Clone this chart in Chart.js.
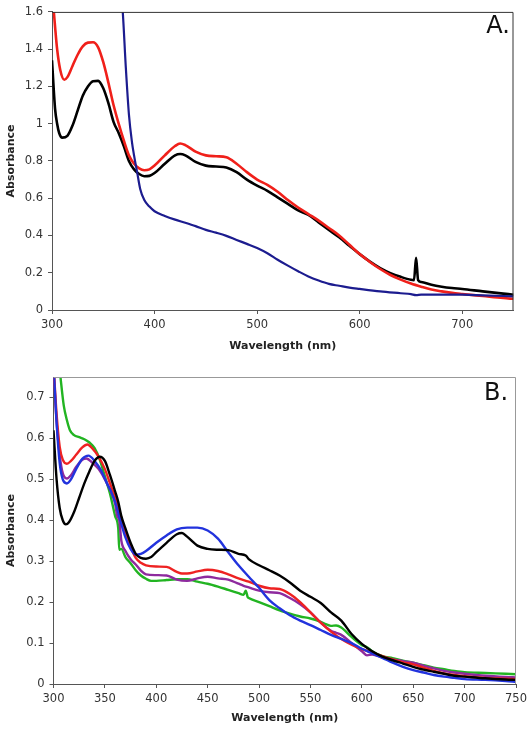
<!DOCTYPE html>
<html>
<head>
<meta charset="utf-8">
<script src="https://cdn.jsdelivr.net/npm/chart.js@4.4.1/dist/chart.umd.min.js"></script>
<style>
  html, body { margin: 0; padding: 0; background: #fff; }
  #wrapA { position: absolute; left: 0; top: 0; width: 532px; height: 360px; }
  #wrapB { position: absolute; left: 0; top: 360px; width: 532px; height: 372px; }
</style>
</head>
<body>
<div id="wrapA"><canvas id="chartA" width="532" height="360"></canvas></div>
<div id="wrapB"><canvas id="chartB" width="532" height="372"></canvas></div>
<script>
// ---------- Panel A data ----------
const aBlackWl  = [300,303,305,307,310,315,320,325,330,335,340,345,350,355,360,365,370,375,380,385,390,395,400,410,420,425,430,440,450,460,470,480,490,500,510,520,530,540,550,560,570,580,590,600,610,620,630,640,650,653,655,657,660,670,680,690,700,720,740,750];
const aBlackAbs = [1.34,1.08,1.00,0.95,0.925,0.935,0.99,1.07,1.15,1.20,1.228,1.23,1.19,1.11,1.01,0.95,0.88,0.80,0.755,0.73,0.718,0.72,0.735,0.785,0.83,0.837,0.83,0.795,0.775,0.77,0.765,0.74,0.70,0.668,0.64,0.605,0.57,0.535,0.51,0.47,0.43,0.39,0.345,0.30,0.26,0.225,0.198,0.178,0.162,0.16,0.28,0.16,0.15,0.135,0.125,0.118,0.113,0.10,0.088,0.082];

const aRedWl  = [300,303,305,308,312,315,320,325,330,335,340,345,350,355,360,365,370,375,380,385,390,395,400,410,420,425,430,440,450,460,470,480,490,500,510,520,530,540,550,560,570,580,590,600,610,620,630,640,650,660,670,680,690,700,720,740,750];
const aRedAbs = [1.72,1.52,1.40,1.29,1.236,1.25,1.31,1.37,1.415,1.435,1.437,1.41,1.33,1.22,1.10,1.00,0.91,0.83,0.785,0.76,0.75,0.755,0.775,0.83,0.88,0.894,0.885,0.85,0.83,0.825,0.82,0.785,0.74,0.70,0.672,0.635,0.59,0.55,0.515,0.48,0.44,0.40,0.35,0.30,0.258,0.22,0.188,0.163,0.142,0.125,0.11,0.10,0.092,0.086,0.075,0.064,0.06];

const aBlueWl  = [350,360,365,369,372,375,378,380,383,386,390,395,400,410,420,430,440,450,460,470,480,490,500,510,520,530,540,550,560,570,580,590,600,620,640,650,655,660,680,700,720,750];
const aBlueAbs = [2.8,2.2,1.85,1.6,1.3,1.05,0.9,0.83,0.74,0.65,0.59,0.555,0.53,0.505,0.485,0.468,0.45,0.43,0.415,0.398,0.376,0.355,0.333,0.305,0.27,0.238,0.208,0.18,0.158,0.14,0.13,0.12,0.113,0.10,0.09,0.085,0.08,0.083,0.083,0.082,0.079,0.073];

const aYTicks = [0,0.2,0.4,0.6,0.8,1,1.2,1.4,1.6];
const aXTicks = [300,400,500,600,700];

// ---------- Panel B data ----------
const bBlackWl  = [300,303,306,309,312,315,320,325,330,335,340,345,350,355,360,363,366,370,375,380,385,390,395,400,410,420,425,430,440,450,460,470,480,487,490,500,510,520,530,540,550,560,570,580,590,600,610,620,630,640,650,660,670,680,690,700,720,740,750];
const bBlackAbs = [0.62,0.50,0.43,0.40,0.39,0.395,0.42,0.455,0.49,0.52,0.545,0.555,0.545,0.51,0.47,0.445,0.41,0.38,0.345,0.318,0.308,0.306,0.31,0.322,0.345,0.366,0.369,0.36,0.338,0.33,0.328,0.327,0.318,0.314,0.305,0.29,0.278,0.265,0.248,0.228,0.213,0.198,0.175,0.155,0.122,0.098,0.08,0.067,0.058,0.05,0.042,0.035,0.03,0.025,0.02,0.018,0.014,0.011,0.01];

const bBlueWl  = [300,303,306,309,313,317,322,328,334,340,346,352,356,360,365,370,375,380,385,390,400,410,420,430,440,450,460,470,480,490,500,510,520,530,540,550,560,570,580,590,600,610,620,630,640,650,660,670,680,690,700,720,740,750];
const bBlueAbs = [0.78,0.64,0.54,0.50,0.49,0.50,0.525,0.55,0.558,0.545,0.523,0.49,0.47,0.445,0.40,0.358,0.33,0.316,0.318,0.325,0.345,0.363,0.378,0.382,0.382,0.375,0.355,0.322,0.29,0.262,0.235,0.205,0.185,0.168,0.155,0.144,0.132,0.12,0.11,0.10,0.086,0.075,0.064,0.052,0.042,0.034,0.028,0.022,0.018,0.015,0.012,0.01,0.007,0.005];

const bRedWl  = [300,303,306,309,313,317,322,328,333,338,344,350,355,360,365,370,375,380,385,390,400,410,420,425,430,440,450,460,470,480,490,500,510,520,530,540,550,560,570,580,590,600,610,620,630,640,650,660,670,680,690,700,720,740,750];
const bRedAbs = [0.78,0.66,0.58,0.548,0.538,0.545,0.56,0.578,0.585,0.575,0.555,0.525,0.49,0.455,0.415,0.37,0.335,0.308,0.296,0.29,0.287,0.286,0.274,0.27,0.27,0.275,0.279,0.276,0.268,0.258,0.25,0.24,0.234,0.232,0.22,0.20,0.175,0.15,0.128,0.11,0.096,0.085,0.077,0.068,0.06,0.053,0.048,0.04,0.032,0.026,0.022,0.019,0.015,0.013,0.012];

const bPurpleWl  = [300,303,306,309,313,317,322,328,332,338,344,350,355,360,362,364,366,370,375,380,385,390,400,410,420,430,440,450,460,470,480,485,490,500,510,520,530,540,550,560,570,575,580,590,600,605,610,620,630,640,650,660,670,680,690,700,720,740,750];
const bPurpleAbs = [0.77,0.64,0.56,0.515,0.502,0.51,0.53,0.548,0.551,0.54,0.525,0.50,0.475,0.44,0.41,0.40,0.35,0.325,0.305,0.292,0.277,0.268,0.266,0.265,0.255,0.252,0.258,0.262,0.258,0.255,0.245,0.24,0.236,0.228,0.224,0.222,0.21,0.195,0.175,0.15,0.13,0.125,0.12,0.10,0.08,0.07,0.072,0.065,0.06,0.056,0.052,0.045,0.038,0.032,0.028,0.025,0.02,0.017,0.016];

const bGreenWl  = [300,304,307,310,313,316,320,325,330,335,340,345,350,355,360,363,364,366,370,375,380,385,390,395,400,410,420,430,440,450,460,470,480,485,487,489,490,500,510,520,530,540,550,560,565,570,575,580,590,600,605,610,620,630,640,650,660,670,680,690,700,720,740,750];
const bGreenAbs = [0.95,0.82,0.745,0.68,0.645,0.62,0.608,0.603,0.598,0.59,0.576,0.548,0.507,0.465,0.41,0.38,0.328,0.33,0.31,0.295,0.278,0.265,0.257,0.252,0.252,0.254,0.256,0.256,0.25,0.245,0.238,0.23,0.222,0.218,0.228,0.212,0.21,0.20,0.19,0.18,0.172,0.165,0.16,0.152,0.146,0.142,0.143,0.138,0.115,0.095,0.09,0.08,0.068,0.063,0.057,0.052,0.046,0.04,0.036,0.032,0.029,0.027,0.025,0.024];

const bYTicks = [0,0.1,0.2,0.3,0.4,0.5,0.6,0.7];
const bXTicks = [300,350,400,450,500,550,600,650,700,750];

// ---------- helpers ----------
function pts(wl, ab) { return wl.map((w, i) => ({ x: w, y: ab[i] })); }
function ds(wl, ab, color, width) {
  return { data: pts(wl, ab), borderColor: color, borderWidth: width, pointRadius: 0,
           fill: false, cubicInterpolationMode: 'monotone' };
}
const FONT = "'DejaVu Sans', Verdana, sans-serif";

function framePlugin(label, frameColor, lx, ly) {
  return {
    id: 'frame' + label,
    afterDatasetsDraw(chart) {
      const { ctx, chartArea: a } = chart;
      ctx.save();
      ctx.strokeStyle = frameColor;
      ctx.lineWidth = 1;
      ctx.beginPath();
      ctx.moveTo(a.left, a.top + 0.5);
      ctx.lineTo(a.right - 0.5, a.top + 0.5);
      ctx.lineTo(a.right - 0.5, a.bottom);
      ctx.stroke();
      ctx.fillStyle = '#111';
      ctx.font = '24px ' + FONT;
      ctx.textAlign = 'center';
      ctx.textBaseline = 'middle';
      ctx.fillText(label, lx, ly);
      ctx.restore();
    }
  };
}

function makeOptions(cfg) {
  return {
    responsive: false,
    animation: false,
    events: [],
    layout: { padding: { top: cfg.padTop, right: cfg.padRight, left: 0, bottom: 0 } },
    plugins: { legend: { display: false }, tooltip: { enabled: false } },
    scales: {
      x: {
        type: 'linear', min: 300, max: 750,
        afterFit: s => { s.height = cfg.xHeight; },
        afterBuildTicks: s => { s.ticks = cfg.xTicks.map(v => ({ value: v })); },
        ticks: { font: { family: FONT, size: 11.5 }, color: '#333', padding: 4, maxRotation: 0, autoSkip: false },
        grid: { drawOnChartArea: false, drawTicks: true, tickLength: 4, color: cfg.axisColor },
        border: { display: true, color: cfg.axisColor, width: 1 },
        title: { display: true, text: 'Wavelength (nm)', color: '#222',
                 font: { family: FONT, size: 11, weight: 'bold' }, padding: { top: 0, bottom: 7 } }
      },
      y: {
        type: 'linear', min: 0, max: cfg.yMax,
        afterFit: s => { s.width = cfg.yWidth; },
        afterBuildTicks: s => { s.ticks = cfg.yTicks.map(v => ({ value: v })); },
        ticks: { font: { family: FONT, size: 11.5 }, color: '#333', padding: 5,
                 callback: v => String(+v.toFixed(2)) },
        grid: { drawOnChartArea: false, drawTicks: true, tickLength: 4, color: cfg.axisColor },
        border: { display: true, color: cfg.axisColor, width: 1 },
        title: { display: true, text: 'Absorbance', color: '#222',
                 font: { family: FONT, size: 11, weight: 'bold' }, padding: { top: 5, bottom: 0 } }
      }
    }
  };
}

new Chart(document.getElementById('chartA'), {
  type: 'line',
  data: { datasets: [
    ds(aBlueWl, aBlueAbs, '#1c1c8f', 2.2),
    ds(aRedWl, aRedAbs, '#f0201a', 2.6),
    ds(aBlackWl, aBlackAbs, '#000000', 2.6)
  ] },
  options: makeOptions({ padTop: 11.5, padRight: 18.5, xHeight: 50, yWidth: 52, yMax: 1.6,
                         yTicks: aYTicks, xTicks: aXTicks, axisColor: '#555' }),
  plugins: [framePlugin('A.', '#333', 498, 27)]
});

new Chart(document.getElementById('chartB'), {
  type: 'line',
  data: { datasets: [
    ds(bBlackWl, bBlackAbs, '#000000', 2.4),
    ds(bBlueWl, bBlueAbs, '#2233dd', 2.4),
    ds(bRedWl, bRedAbs, '#ee2222', 2.4),
    ds(bPurpleWl, bPurpleAbs, '#8e2a9e', 2.4),
    ds(bGreenWl, bGreenAbs, '#22b422', 2.4)
  ] },
  options: makeOptions({ padTop: 17, padRight: 16, xHeight: 48, yWidth: 53.5, yMax: 0.75,
                         yTicks: bYTicks, xTicks: bXTicks, axisColor: '#555' }),
  plugins: [framePlugin('B.', '#999', 496, 33.5)]
});
</script>
</body>
</html>
